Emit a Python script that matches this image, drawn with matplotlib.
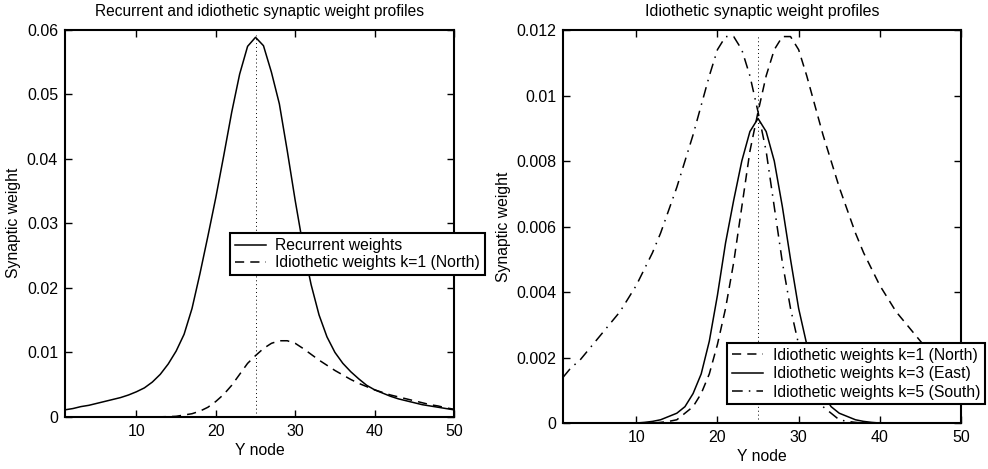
import matplotlib
matplotlib.use("Agg")
import matplotlib.pyplot as plt

plt.rcParams['font.family'] = ['Liberation Sans', 'DejaVu Sans']

# node index 1..50
nodes = list(range(1, 51))

recurrent = [0.0011, 0.0013, 0.0016, 0.0018, 0.0021, 0.0024, 0.0027, 0.0030, 0.0034, 0.0039,
             0.0045, 0.0054, 0.0066, 0.0082, 0.0102, 0.0128, 0.0168, 0.0222, 0.0280, 0.0340,
             0.0405, 0.0472, 0.0531, 0.0574, 0.0588, 0.0575, 0.0534, 0.0485, 0.0412, 0.0335,
             0.0264, 0.0205, 0.0158, 0.0124, 0.0100, 0.0083, 0.0070, 0.0059, 0.0049, 0.0042,
             0.0037, 0.0032, 0.0028, 0.0025, 0.0022, 0.0019, 0.0017, 0.0015, 0.0013, 0.0011]

north = [0.0, 0.0, 0.0, 0.0, 0.0, 0.0, 0.0, 0.0, 0.0, 0.0,
         0.0, 0.0, 0.00002, 0.00005, 0.0001, 0.0003, 0.0005, 0.0009, 0.0015, 0.0024,
         0.0035, 0.0049, 0.0066, 0.0083, 0.0095, 0.0106, 0.0114, 0.0118, 0.0118, 0.0114,
         0.0106, 0.0097, 0.0088, 0.0080, 0.0072, 0.0065, 0.0058, 0.0052, 0.0047, 0.0042,
         0.0038, 0.0034, 0.0031, 0.0028, 0.0025, 0.0022, 0.0019, 0.0017, 0.0014, 0.0012]

east = [0.0, 0.0, 0.0, 0.0, 0.0, 0.0, 0.0, 0.0, 0.0, 0.0,
        0.00002, 0.00005, 0.0001, 0.0002, 0.0003, 0.0005, 0.0009, 0.0015, 0.0025, 0.0039,
        0.0055, 0.0068, 0.0080, 0.0089, 0.0093, 0.0089, 0.0080, 0.0066, 0.0050, 0.0035,
        0.0024, 0.0015, 0.0009, 0.0005, 0.0003, 0.0002, 0.0001, 0.00005, 0.00002, 0.0,
        0.0, 0.0, 0.0, 0.0, 0.0, 0.0, 0.0, 0.0, 0.0, 0.0]

south = [0.0014, 0.0017, 0.0019, 0.0022, 0.0025, 0.0028, 0.0031, 0.0034, 0.0038, 0.0042,
         0.0047, 0.0052, 0.0058, 0.0065, 0.0072, 0.0080, 0.0088, 0.0097, 0.0106, 0.0114,
         0.0118, 0.0118, 0.0114, 0.0106, 0.0095, 0.0083, 0.0066, 0.0049, 0.0035, 0.0024,
         0.0015, 0.0009, 0.0005, 0.0003, 0.0001, 0.00005, 0.00002, 0.0, 0.0, 0.0,
         0.0, 0.0, 0.0, 0.0, 0.0, 0.0, 0.0, 0.0, 0.0, 0.0]

xticks = [10, 20, 30, 40, 50]
left_yticks = [0, 0.01, 0.02, 0.03, 0.04, 0.05, 0.06]
left_ylabels = ['0', '0.01', '0.02', '0.03', '0.04', '0.05', '0.06']
right_yticks = [0, 0.002, 0.004, 0.006, 0.008, 0.01, 0.012]
right_ylabels = ['0', '0.002', '0.004', '0.006', '0.008', '0.01', '0.012']
centre = 25

fig = plt.figure(figsize=(9.88, 4.69), dpi=100)
ax1 = fig.add_axes([0.0658, 0.111, 0.3937, 0.826])
ax2 = fig.add_axes([0.570, 0.098, 0.4027, 0.838])

dash = (0, (6, 4))
dashdot = (0, (7, 4, 1, 4))


def style(ax, yticks, ylabels, ymax):
    ax.set_xlim(1, 50)
    ax.set_ylim(0, ymax)
    ax.set_xticks(xticks)
    ax.set_xticklabels([str(t) for t in xticks])
    ax.set_yticks(yticks)
    ax.set_yticklabels(ylabels)
    ax.tick_params(direction='in', top=True, right=True, length=5, width=1,
                   labelsize=11.5, pad=5)
    for s in ax.spines.values():
        s.set_linewidth(1.5)
    ax.set_xlabel('Y node', fontsize=11.3, labelpad=3)
    ax.set_ylabel('Synaptic weight', fontsize=11.3, labelpad=4)


# left panel
ax1.plot(nodes, recurrent, color='black', lw=1.1, label='Recurrent weights')
ax1.plot(nodes, north, color='black', lw=1.1, linestyle=dash,
         label='Idiothetic weights k=1 (North)')
ax1.axvline(centre, ymin=0.01, ymax=0.985, color='black', lw=0.7, linestyle=(0, (1, 3)))
style(ax1, left_yticks, left_ylabels, 0.06)
ax1.set_title('Recurrent and idiothetic synaptic weight profiles', fontsize=11.2, pad=10)
leg = ax1.legend(loc='upper left', bbox_to_anchor=(0.424, 0.474), fontsize=11.3,
                 frameon=True, fancybox=False, edgecolor='black', framealpha=1,
                 borderpad=0.3, labelspacing=0.15, handlelength=2.0, handletextpad=0.6,
                 borderaxespad=0)
leg.get_frame().set_linewidth(1.5)

# right panel
ax2.plot(nodes, north, color='black', lw=1.1, linestyle=dash,
         label='Idiothetic weights k=1 (North)')
ax2.plot(nodes, east, color='black', lw=1.1, label='Idiothetic weights k=3 (East)')
ax2.plot(nodes, south, color='black', lw=1.1, linestyle=dashdot,
         label='Idiothetic weights k=5 (South)')
ax2.axvline(centre, ymin=0.01, ymax=0.985, color='black', lw=0.7, linestyle=(0, (1, 3)))
style(ax2, right_yticks, right_ylabels, 0.012)
ax2.set_title('Idiothetic synaptic weight profiles', fontsize=11.5, pad=10)
leg2 = ax2.legend(loc='upper left', bbox_to_anchor=(0.412, 0.2036), fontsize=11.3,
                  frameon=True, fancybox=False, edgecolor='black', framealpha=1,
                  borderpad=0.3, labelspacing=0.22, handlelength=2.0, handletextpad=0.6,
                  borderaxespad=0)
leg2.get_frame().set_linewidth(1.5)

fig.savefig('out.png', dpi=100)
